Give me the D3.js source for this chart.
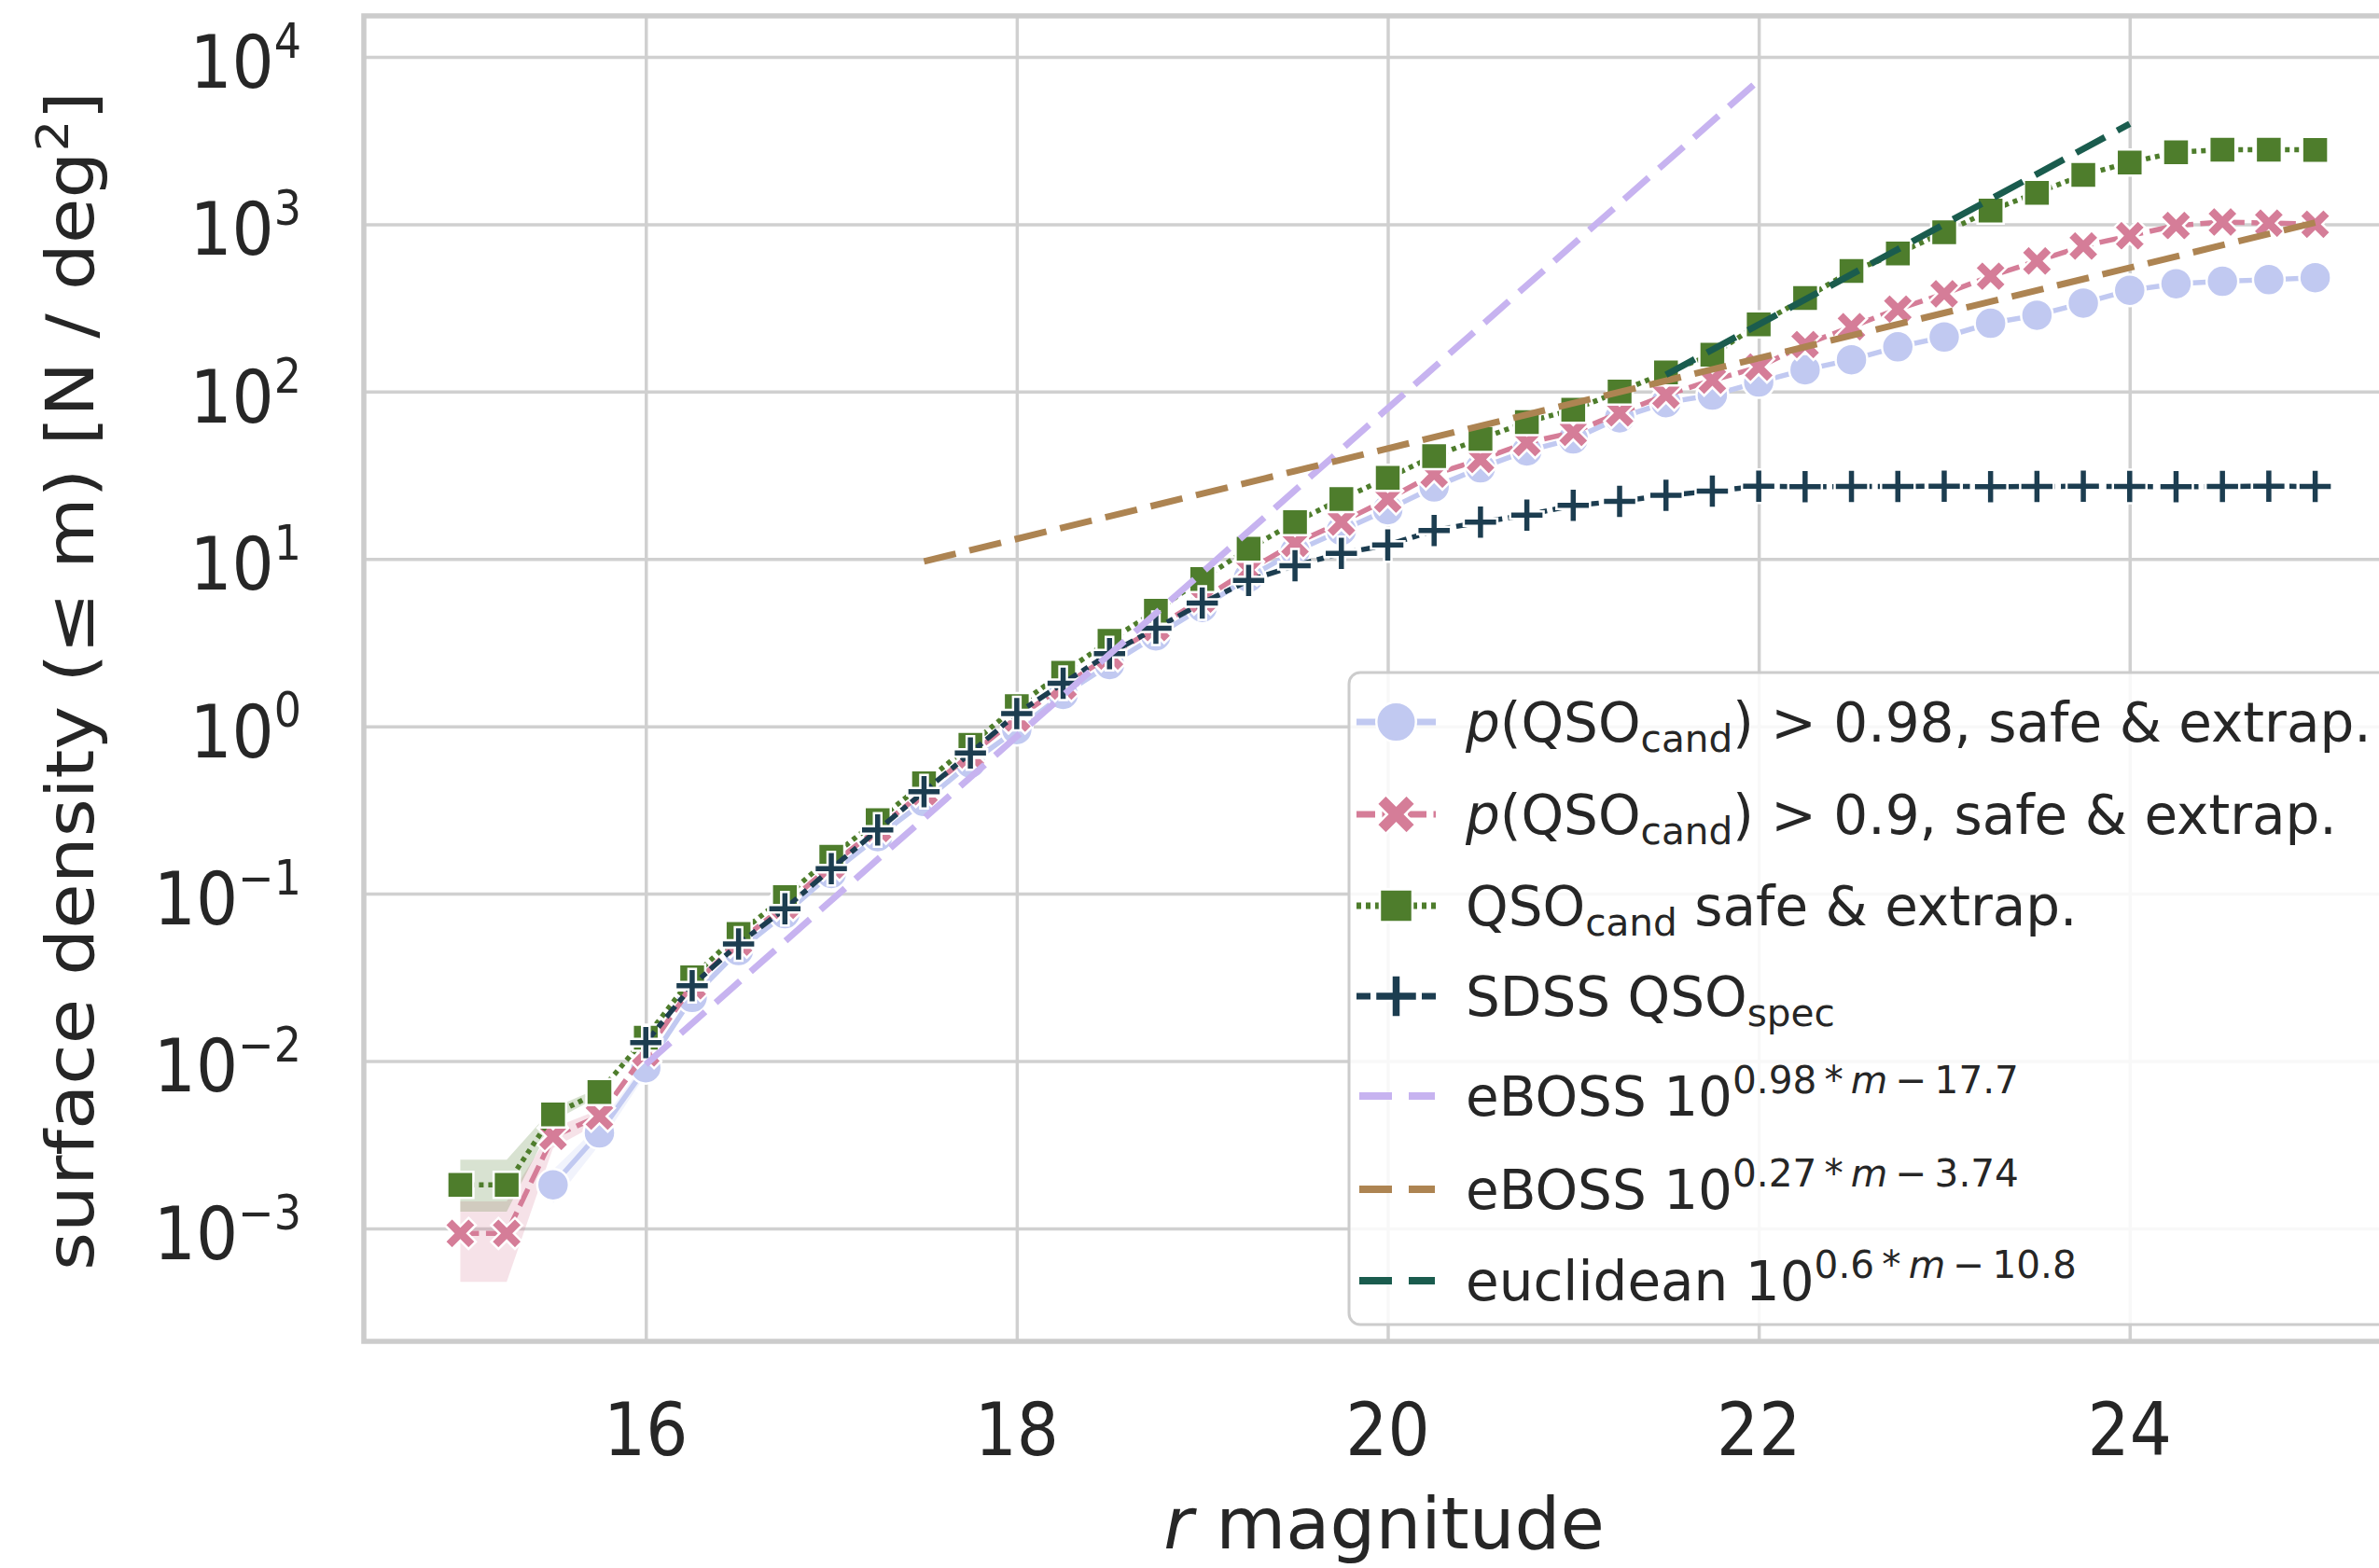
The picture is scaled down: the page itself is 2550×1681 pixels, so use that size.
<!DOCTYPE html>
<html>
<head>
<meta charset="utf-8">
<script src="https://cdn.jsdelivr.net/npm/d3@7"></script>
<style>
  html, body { margin: 0; padding: 0; background: #fff; }
  svg { display: block; font-family: "DejaVu Sans", sans-serif; }
</style>
</head>
<body>
<svg id="chart"></svg>
<script>
// r magnitude bins
const mags = [15, 15.25, 15.5, 15.75, 16, 16.25, 16.5, 16.75, 17, 17.25, 17.5, 17.75,
  18, 18.25, 18.5, 18.75, 19, 19.25, 19.5, 19.75, 20, 20.25, 20.5, 20.75, 21, 21.25,
  21.5, 21.75, 22, 22.25, 22.5, 22.75, 23, 23.25, 23.5, 23.75, 24, 24.25, 24.5, 24.75, 25];

// surface density (<= m) per series, N / deg^2
const pHigh = [null, null, 0.00182, 0.00372, 0.00912, 0.0240, 0.0457, 0.0759, 0.132, 0.219,
  0.355, 0.603, 0.955, 1.55, 2.34, 3.47, 5.13, 7.76, 11.1, 14.8, 19.7, 26.9, 35.0, 44.2, 52.1,
  69.7, 85.9, 95.3, 114, 135, 155, 185, 212, 256, 286, 338, 403, 441, 456, 466, 479];
const pMid = [0.000933, 0.000933, 0.00355, 0.00468, 0.0112, 0.0282, 0.0513, 0.0851, 0.148,
  0.245, 0.407, 0.676, 1.12, 1.74, 2.63, 3.89, 5.75, 8.59, 12.4, 16.6, 22.8, 32.1, 39.3, 49.5,
  57.0, 74.6, 95.3, 117, 140, 191, 244, 311, 384, 489, 603, 741, 853, 982, 1030, 1016, 1000];
const qsoCand = [0.00182, 0.00182, 0.00479, 0.00653, 0.0138, 0.0316, 0.0575, 0.0955, 0.166,
  0.275, 0.457, 0.776, 1.32, 2.09, 3.24, 4.90, 7.59, 11.5, 16.6, 22.8, 30.5, 41.2, 52.1, 65.8,
  78.0, 100, 130, 166, 252, 362, 525, 668, 895, 1208, 1542, 1968, 2339, 2692, 2786, 2790, 2780];
const sdssSpec = [null, null, null, null, 0.0129, 0.0282, 0.0501, 0.0813, 0.141, 0.240, 0.407,
  0.692, 1.19, 1.81, 2.72, 3.85, 5.45, 7.43, 9.12, 10.8, 12.1, 14.8, 16.6, 18.3, 20.9, 22.1,
  24.0, 25.4, 27.2, 27.0, 27.1, 27.1, 27.2, 27.0, 27.1, 27.2, 27.1, 27.0, 27.1, 27.2, 27.1];

// uncertainty bands, only visible at the bright end (aligned with mags)
const pHighLo = [null, null, 0.00141, 0.00316, 0.00832];
const pHighHi = [null, null, 0.00224, 0.00417, 0.0100];
const pMidLo = [0.000479, 0.000479, 0.00302, 0.00427];
const pMidHi = [0.00145, 0.00145, 0.00398, 0.00513];
const qsoCandLo = [0.00126, 0.00126, 0.00437, 0.00617];
const qsoCandHi = [0.00257, 0.00257, 0.00525, 0.00692];

// reference relations: end points [m, density]
const eboss98 = [[16, 0.00955], [22, 7244]];
const eboss27 = [[17.5, 9.66], [25, 1023]];
const euclid = [[21.5, 126], [24, 3981]];

const xTicks = [16, 18, 20, 22, 24];
const yTickExps = [-3, -2, -1, 0, 1, 2, 3, 4];

const W = 2550, H = 1681;
const plotTop = 17, plotBottom = 1438, plotLeft = 390;
const textColor = '#262626';
const gridColor = '#d0d0d0';
const stretch = 1.11;

const svg = d3.select('#chart').attr('width', W).attr('height', H);
svg.append('rect').attr('width', W).attr('height', H).attr('fill', '#fff');

const x = d3.scaleLinear().domain([14.5, 25.5]).range([394, 2581]);
const y = d3.scaleLog().domain([Math.pow(10, -3.675), Math.pow(10, 4.245)]).range([plotBottom, plotTop]);

// grid
const gx = svg.append('g')
  .attr('transform', `translate(0,${plotBottom})`)
  .call(d3.axisBottom(x).tickValues(xTicks).tickSize(-(plotBottom - plotTop)).tickFormat(''));
const gy = svg.append('g')
  .attr('transform', `translate(${plotLeft},0)`)
  .call(d3.axisLeft(y).tickValues(yTickExps.map(e => Math.pow(10, e))).tickSize(-(W - plotLeft + 50)).tickFormat(''));
[gx, gy].forEach(g => {
  g.select('.domain').remove();
  g.selectAll('line').attr('stroke', gridColor).attr('stroke-width', 3.5);
});

// frame
svg.append('rect')
  .attr('x', plotLeft).attr('y', plotTop)
  .attr('width', W - plotLeft + 60).attr('height', plotBottom - plotTop)
  .attr('fill', 'none').attr('stroke', '#cccccc').attr('stroke-width', 5.5);

svg.append('clipPath').attr('id', 'plot')
  .append('rect').attr('x', plotLeft).attr('y', plotTop).attr('width', W - plotLeft + 60).attr('height', plotBottom - plotTop);

const plot = svg.append('g').attr('clip-path', 'url(#plot)');

// marker shapes
function crossPts(r, t, rot) {
  const p = [[-t, -r], [t, -r], [t, -t], [r, -t], [r, t], [t, t], [t, r], [-t, r], [-t, t], [-r, t], [-r, -t], [-t, -t]];
  const c = Math.cos(rot), s = Math.sin(rot);
  return 'M' + p.map(([a, b]) => [(a * c - b * s).toFixed(2), (a * s + b * c).toFixed(2)].join(',')).join('L') + 'Z';
}
const markerPath = {
  circle: `M17,0A17,17 0 1,1 -17,0A17,17 0 1,1 17,0Z`,
  x: crossPts(18, 5.5, Math.PI / 4),
  square: `M-14,-14H14V14H-14Z`,
  plus: crossPts(18, 4, 0)
};

const series = [
  { name: 'pHigh', values: pHigh, lo: pHighLo, hi: pHighHi, color: '#c1c9f1', marker: 'circle', dash: null },
  { name: 'pMid', values: pMid, lo: pMidLo, hi: pMidHi, color: '#d57d98', marker: 'x', dash: '20,7.5' },
  { name: 'qsoCand', values: qsoCand, lo: qsoCandLo, hi: qsoCandHi, color: '#4e7d2c', marker: 'square', dash: '5,5' },
  { name: 'sdssSpec', values: sdssSpec, lo: null, hi: null, color: '#1c3d50', marker: 'plus', dash: '15,6.25,7.5,6.25' }
];

const refLines = [
  { pts: eboss98, color: '#c7b3f0' },
  { pts: eboss27, color: '#ad8452' },
  { pts: euclid, color: '#1a5c4e' }
];

// bands behind everything
series.forEach(s => {
  if (!s.lo) return;
  const rows = s.lo.map((lo, i) => ({ m: mags[i], lo: lo, hi: s.hi[i] }));
  plot.append('path')
    .datum(rows)
    .attr('fill', s.color)
    .attr('fill-opacity', 0.22)
    .attr('d', d3.area()
      .defined(d => d.lo != null)
      .x(d => x(d.m))
      .y0(d => y(d.lo))
      .y1(d => y(d.hi)));
});

// lines + markers
series.forEach(s => {
  const rows = s.values.map((v, i) => ({ m: mags[i], v: v })).filter(d => d.v != null);
  plot.append('path')
    .datum(rows)
    .attr('fill', 'none')
    .attr('stroke', s.color)
    .attr('stroke-width', 5.5)
    .attr('stroke-dasharray', s.dash)
    .attr('d', d3.line().x(d => x(d.m)).y(d => y(d.v)));
  plot.append('g').selectAll('path')
    .data(rows)
    .join('path')
    .attr('transform', d => `translate(${x(d.m)},${y(d.v)})`)
    .attr('d', markerPath[s.marker])
    .attr('fill', s.color)
    .attr('stroke', '#fff')
    .attr('stroke-width', 2.5);
});

// reference relations
refLines.forEach(r => {
  plot.append('path')
    .datum(r.pts)
    .attr('fill', 'none')
    .attr('stroke', r.color)
    .attr('stroke-width', 7)
    .attr('stroke-dasharray', '35,15')
    .attr('d', d3.line().x(d => x(d[0])).y(d => y(d[1])));
});

// tick labels
svg.append('g').selectAll('g')
  .data(xTicks)
  .join('g')
  .attr('transform', d => `translate(${x(d)},1560) scale(1,${stretch})`)
  .append('text')
  .attr('text-anchor', 'middle')
  .attr('font-size', 71)
  .attr('fill', textColor)
  .text(d => d);

const yt = svg.append('g').selectAll('g')
  .data(yTickExps)
  .join('g')
  .attr('transform', e => `translate(323,${y(Math.pow(10, e)) + 33}) scale(1,${stretch})`)
  .append('text')
  .attr('text-anchor', 'end')
  .attr('font-size', 71)
  .attr('fill', textColor);
yt.append('tspan').text('10');
yt.append('tspan').attr('dy', -29).attr('font-size', 46)
  .text(e => e < 0 ? '\u2212' + (-e) : String(e));

// axis labels
const xl = svg.append('text')
  .attr('x', (plotLeft + 2577) / 2)
  .attr('y', 1660)
  .attr('text-anchor', 'middle')
  .attr('font-size', 77)
  .attr('fill', textColor);
xl.append('tspan').attr('font-style', 'italic').text('r');
xl.append('tspan').text(' magnitude');

const yl = svg.append('g')
  .attr('transform', `translate(100,730) scale(1,${stretch}) rotate(-90)`)
  .append('text')
  .attr('text-anchor', 'middle')
  .attr('font-size', 71)
  .attr('fill', textColor);
yl.append('tspan').text('surface density (\u2264 m) [N / deg');
yl.append('tspan').attr('dy', -27).attr('font-size', 48).text('2');
yl.append('tspan').attr('dy', 27).text(']');

// legend
const legendRows = [
  { kind: 'series', s: series[0], parts: [['p', 'i'], ['(QSO'], ['cand', 'sub'], [') > 0.98, safe & extrap.']] },
  { kind: 'series', s: series[1], parts: [['p', 'i'], ['(QSO'], ['cand', 'sub'], [') > 0.9, safe & extrap.']] },
  { kind: 'series', s: series[2], parts: [['QSO'], ['cand', 'sub'], [' safe & extrap.']] },
  { kind: 'series', s: series[3], parts: [['SDSS QSO'], ['spec', 'sub']] },
  { kind: 'ref', s: refLines[0], parts: [['eBOSS 10'], ['0.98\u2009*\u2009', 'sup'], ['m', 'supi'], ['\u2009\u2212\u200917.7', 'sup']] },
  { kind: 'ref', s: refLines[1], parts: [['eBOSS 10'], ['0.27\u2009*\u2009', 'sup'], ['m', 'supi'], ['\u2009\u2212\u20093.74', 'sup']] },
  { kind: 'ref', s: refLines[2], parts: [['euclidean 10'], ['0.6\u2009*\u2009', 'sup'], ['m', 'supi'], ['\u2009\u2212\u200910.8', 'sup']] }
];

const legend = svg.append('g');
legend.append('rect')
  .attr('x', 1446).attr('y', 721)
  .attr('width', 1200).attr('height', 699)
  .attr('rx', 12)
  .attr('fill', '#fff').attr('fill-opacity', 0.85)
  .attr('stroke', '#cccccc').attr('stroke-width', 3);

// rows with superscripts sit a little further apart
const rowYs = [774, 873, 971, 1068, 1175, 1275, 1373];
const legFont = 58;

legendRows.forEach((row, i) => {
  const cy = rowYs[i];
  const g = legend.append('g');
  if (row.kind === 'series') {
    g.append('line')
      .attr('x1', 1454).attr('x2', 1539).attr('y1', cy).attr('y2', cy)
      .attr('stroke', row.s.color).attr('stroke-width', 7)
      .attr('stroke-dasharray', row.s.dash);
    g.append('path')
      .attr('transform', `translate(1496.5,${cy}) scale(1.25)`)
      .attr('d', markerPath[row.s.marker])
      .attr('fill', row.s.color)
      .attr('stroke', '#fff').attr('stroke-width', 2);
  } else {
    g.append('line')
      .attr('x1', 1457).attr('x2', 1538).attr('y1', cy).attr('y2', cy)
      .attr('stroke', row.s.color).attr('stroke-width', 8)
      .attr('stroke-dasharray', '35,18');
  }
  const t = g.append('text')
    .attr('x', 1571).attr('y', cy + 21)
    .attr('font-size', legFont)
    .attr('fill', textColor);
  let shift = 0;
  row.parts.forEach(([txt, mode]) => {
    const ts = t.append('tspan').text(txt);
    let want = 0;
    if (mode === 'sub') { want = 11; ts.attr('font-size', legFont * 0.7); }
    if (mode === 'sup' || mode === 'supi') { want = -24; ts.attr('font-size', legFont * 0.7); }
    if (mode === 'i' || mode === 'supi') ts.attr('font-style', 'italic');
    if (want !== shift) { ts.attr('dy', want - shift); shift = want; }
  });
});
</script>
</body>
</html>
